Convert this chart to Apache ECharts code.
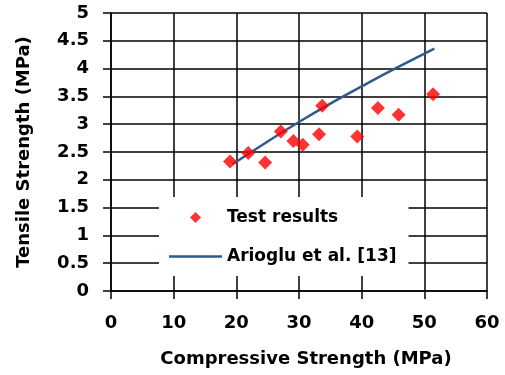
<!DOCTYPE html>
<html>
<head>
<meta charset="utf-8">
<script src="https://cdn.jsdelivr.net/npm/echarts@6/dist/echarts.min.js"></script>
<style>
  html, body { margin: 0; padding: 0; background: #fff; }
  #chart { width: 505px; height: 375px; }
</style>
</head>
<body>
<div id="chart"></div>
<script>
// test results (compressive, tensile) in MPa
const testX = [19.0, 21.9, 24.6, 27.1, 29.1, 30.6, 33.2, 33.7, 39.3, 42.6, 45.9, 51.4];
const testY = [2.33, 2.48, 2.31, 2.87, 2.70, 2.63, 2.82, 3.33, 2.78, 3.29, 3.17, 3.54];

// Arioglu et al. [13] curve
const curveX = [19.4, 25, 30, 35, 40, 45, 51.6];
const curveY = [2.28, 2.69, 3.04, 3.37, 3.68, 3.98, 4.36];

const xTicks = [0, 10, 20, 30, 40, 50, 60];
const yTicks = [0, 0.5, 1, 1.5, 2, 2.5, 3, 3.5, 4, 4.5, 5];

const font = "DejaVu Sans";
const chart = echarts.init(document.getElementById("chart"));

chart.setOption({
  animation: false,
  grid: { left: 111, right: 18, top: 13, bottom: 84 },
  legend: {
    orient: "vertical",
    left: 159,
    top: 197,
    padding: [12, 12, 11, 10],
    itemGap: 22,
    itemWidth: 53,
    itemHeight: 11,
    backgroundColor: "#fff",
    textStyle: { fontFamily: font, fontWeight: "bold", fontSize: 17, color: "#000" },
    data: [
      { name: "Test results", icon: "path://M0,-1L1,0L0,1L-1,0Z" },
      { name: "Arioglu et al. [13]", icon: "path://M0,0L53,0L53,2.5L0,2.5Z" }
    ]
  },
  xAxis: {
    type: "value",
    min: xTicks[0],
    max: xTicks[xTicks.length - 1],
    interval: 10,
    name: "Compressive Strength (MPa)",
    nameLocation: "middle",
    nameGap: 59,
    nameTextStyle: { fontFamily: font, fontWeight: "bold", fontSize: 18, color: "#000", padding: [0, 0, 0, 14] },
    axisLine: { lineStyle: { color: "#000", width: 1.5 } },
    axisTick: { show: true, length: 8, lineStyle: { color: "#000", width: 1.5 } },
    axisLabel: { margin: 23, fontFamily: font, fontWeight: "bold", fontSize: 18, color: "#000" },
    splitLine: { show: true, lineStyle: { color: "#000", width: 1.5 } }
  },
  yAxis: {
    type: "value",
    min: yTicks[0],
    max: yTicks[yTicks.length - 1],
    interval: 0.5,
    name: "Tensile Strength (MPa)",
    nameLocation: "middle",
    nameGap: 78,
    nameTextStyle: { fontFamily: font, fontWeight: "bold", fontSize: 18, color: "#000" },
    axisLine: { show: true, lineStyle: { color: "#000", width: 1.5 } },
    axisTick: { show: true, length: 8, lineStyle: { color: "#000", width: 1.5 } },
    axisLabel: { margin: 22, fontFamily: font, fontWeight: "bold", fontSize: 18, color: "#000" },
    splitLine: { show: true, lineStyle: { color: "#000", width: 1.5 } }
  },
  series: [
    {
      name: "Test results",
      type: "scatter",
      symbol: "diamond",
      symbolSize: 14,
      itemStyle: { color: "#ff0000" },
      data: testX.map((x, i) => [x, testY[i]]),
      z: 3
    },
    {
      name: "Arioglu et al. [13]",
      type: "line",
      smooth: true,
      symbol: "none",
      lineStyle: { color: "#2f5b8c", width: 2.5 },
      itemStyle: { color: "#2f5b8c" },
      data: curveX.map((x, i) => [x, curveY[i]]),
      z: 2
    }
  ]
});
</script>
</body>
</html>
